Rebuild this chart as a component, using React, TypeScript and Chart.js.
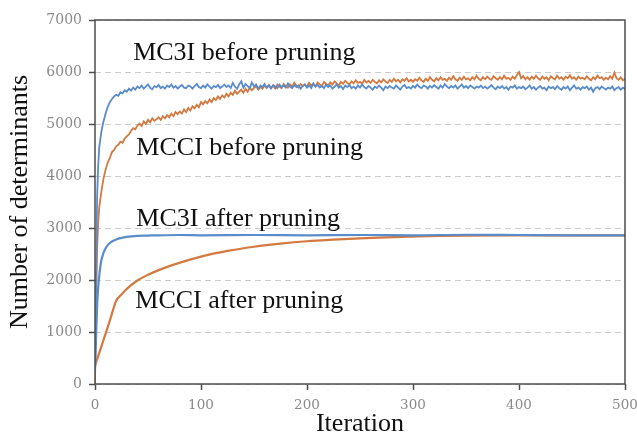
import React, { useEffect, useRef } from "react";
import { Chart, registerables } from "chart.js";

Chart.register(...registerables);

// ---- Data ----
// Noisy "before pruning" series: iterations 0,1,2,3 then every 2 from 4 up to 500
const ITER_NOISY: number[] = [0, 1, 2, 3, ...Array.from({ length: 249 }, (_, i) => 4 + 2 * i)];

const MC3I_BEFORE: number[] = [
  200, 2000, 3600, 4200,
  4550, 4850, 5050, 5200, 5330, 5420, 5480, 5530, 5560, 5540, 5610, 5590, 5650, 5620, 5680, 5640, 5700, 5660, 5720,
  5690, 5740, 5680, 5720, 5760, 5700, 5670, 5730, 5710, 5750,
  5690, 5720, 5680, 5740, 5710, 5760, 5700, 5730, 5680, 5720,
  5750, 5700, 5690, 5740, 5720, 5680, 5730, 5770, 5710, 5690,
  5740, 5700, 5760, 5720, 5680, 5730, 5710, 5750, 5690, 5720,
  5760, 5710, 5740, 5690, 5790, 5720, 5680, 5760, 5820, 5700,
  5770, 5730, 5690, 5800, 5720, 5760, 5680, 5740, 5710, 5770,
  5700, 5740, 5680, 5750, 5720, 5690, 5760, 5710, 5740, 5700,
  5780, 5720, 5690, 5750, 5710, 5740, 5680, 5730, 5760, 5700,
  5740, 5690, 5780, 5720, 5750, 5700, 5730, 5690, 5760, 5710,
  5740, 5680, 5720, 5760, 5700, 5730, 5670, 5740, 5710, 5750,
  5690, 5720, 5680, 5740, 5700, 5760, 5710, 5680, 5730, 5700,
  5660, 5720, 5690, 5740, 5700, 5650, 5720, 5690, 5730, 5700,
  5680, 5740, 5700, 5660, 5720, 5750, 5690, 5710, 5680, 5730,
  5700, 5760, 5710, 5690, 5740, 5720, 5680, 5730, 5700, 5750,
  5710, 5680, 5740, 5700, 5770, 5720, 5690, 5730, 5700, 5740,
  5680, 5720, 5760, 5700, 5730, 5690, 5740, 5710, 5680, 5720,
  5700, 5740, 5690, 5720, 5680, 5710, 5750, 5700, 5670, 5720,
  5690, 5730, 5680, 5710, 5660, 5720, 5700, 5740, 5680, 5710,
  5690, 5720, 5670, 5700, 5740, 5680, 5710, 5660, 5700, 5730,
  5680, 5700, 5650, 5720, 5690, 5710, 5670, 5730, 5690, 5660,
  5710, 5680, 5720, 5650, 5700, 5740, 5680, 5700, 5660, 5710,
  5690, 5720, 5660, 5700, 5620, 5690, 5710, 5670, 5720, 5690,
  5660, 5700, 5680, 5720, 5650, 5690, 5710, 5660, 5700, 5670,
];

const MCCI_BEFORE: number[] = [
  0, 1500, 2600, 3100,
  3400, 3700, 3950, 4120, 4260, 4350, 4460, 4500, 4570, 4600, 4660, 4640, 4720, 4760, 4800, 4870, 4920, 4900, 4970,
  5010, 4960, 5050, 5000, 5080, 5030, 5110, 5060, 5090, 5130,
  5080, 5150, 5110, 5170, 5130, 5200, 5150, 5230, 5190, 5240,
  5200, 5280, 5230, 5310, 5260, 5340, 5300, 5370, 5320, 5420,
  5380, 5440, 5400, 5470, 5420, 5500, 5460, 5530, 5480, 5550,
  5510, 5580, 5530, 5600, 5560, 5640, 5580, 5620, 5660, 5600,
  5680, 5620, 5700, 5650, 5690, 5730, 5660, 5710, 5680, 5740,
  5690, 5750, 5700, 5730, 5680, 5760, 5720, 5690, 5770, 5730,
  5700, 5760, 5720, 5790, 5740, 5700, 5770, 5730, 5760, 5720,
  5790, 5740, 5770, 5720, 5800, 5760, 5730, 5810, 5770, 5740,
  5800, 5760, 5820, 5780, 5740, 5810, 5770, 5830, 5790, 5760,
  5820, 5780, 5840, 5790, 5810, 5770, 5850, 5800, 5830, 5790,
  5850, 5810, 5780, 5840, 5800, 5860, 5820, 5790, 5850, 5810,
  5870, 5820, 5850, 5800, 5860, 5830, 5880, 5820, 5850, 5810,
  5860, 5830, 5890, 5840, 5810, 5870, 5830, 5900, 5850, 5820,
  5880, 5840, 5900, 5850, 5870, 5830, 5890, 5850, 5920, 5860,
  5830, 5890, 5850, 5910, 5860, 5880, 5840, 5900, 5860, 5930,
  5870, 5840, 5900, 5860, 5910, 5870, 5850, 5920, 5880, 5850,
  5900, 5860, 5930, 5870, 5890, 5850, 5910, 5870, 5940, 6000,
  5880, 5920, 5860, 5900, 5850, 5910, 5870, 5930, 5880, 5850,
  5910, 5870, 5900, 5840, 5920, 5880, 5860, 5930, 5870, 5900,
  5850, 5910, 5880, 5940, 5870, 5900, 5850, 5910, 5870, 5890,
  5860, 5920, 5870, 5840, 5900, 5860, 5930, 5880, 5900, 5850,
  5890, 5860, 5920, 5870, 5990, 5880, 5850, 5900, 5840, 5870,
];

// Smooth "after pruning" series
const ITER_MC3I_AFTER: number[] = [0, 1, 2, 3, 4, 5, 6, 8, 10, 12, 15, 20, 25, 30, 40, 50, 60, 80, 100, 150, 200, 250, 300, 350, 400, 450, 500];
const MC3I_AFTER: number[] = [300, 900, 1500, 1850, 2080, 2250, 2380, 2520, 2610, 2670, 2730, 2780, 2810, 2830, 2850, 2855, 2860, 2865, 2860, 2865, 2860, 2865, 2860, 2870, 2865, 2860, 2860];

const ITER_MCCI_AFTER: number[] = [0, 5, 10, 14, 20, 25, 30, 40, 50, 60, 75, 100, 125, 150, 175, 200, 225, 250, 275, 300, 325, 350, 400, 450, 500];
const MCCI_AFTER: number[] = [350, 660, 970, 1220, 1600, 1720, 1830, 1990, 2100, 2190, 2300, 2450, 2560, 2640, 2700, 2745, 2775, 2800, 2820, 2835, 2848, 2855, 2860, 2860, 2860];

// Axis ticks
const X_MIN = 0, X_MAX = 500, X_STEP = 100;
const Y_MIN = 0, Y_MAX = 7000, Y_STEP = 1000;

// In-plot labels
const LABEL_TEXTS: string[] = ["MC3I before pruning", "MCCI before pruning", "MC3I after pruning", "MCCI after pruning"];
const LABEL_X: number[] = [36, 39, 39, 38];
const LABEL_Y: number[] = [6230, 4400, 3040, 1460];

const BLUE = "#5a8ccc";
const ORANGE = "#d4793f";

const toXY = (xs: number[], ys: number[]) => xs.map((x, i) => ({ x, y: ys[i] }));

const overlayPlugin = {
  id: "overlay",
  afterDatasetsDraw(chart: any) {
    const { ctx, chartArea, scales } = chart;
    const x = scales.x, y = scales.y;
    ctx.save();
    ctx.strokeStyle = "#4d4d4d";
    ctx.lineWidth = 1.5;
    ctx.setLineDash([]);
    ctx.strokeRect(chartArea.left, chartArea.top, chartArea.right - chartArea.left, chartArea.bottom - chartArea.top);
    ctx.font = '26px "Liberation Serif"';
    ctx.fillStyle = "#111111";
    ctx.textAlign = "left";
    ctx.textBaseline = "alphabetic";
    LABEL_TEXTS.forEach((t, i) => {
      ctx.fillText(t, x.getPixelForValue(LABEL_X[i]), y.getPixelForValue(LABEL_Y[i]));
    });
    ctx.restore();
  },
};

export default function App() {
  const ref = useRef<HTMLCanvasElement | null>(null);
  useEffect(() => {
    if (!ref.current) return;
    const chart = new Chart(ref.current, {
      type: "line",
      data: {
        datasets: [
          { label: "MC3I after pruning", data: toXY(ITER_MC3I_AFTER, MC3I_AFTER), borderColor: BLUE, borderWidth: 2.2, pointRadius: 0, cubicInterpolationMode: "monotone", fill: false },
          { label: "MC3I before pruning", data: toXY(ITER_NOISY, MC3I_BEFORE), borderColor: BLUE, borderWidth: 1.8, pointRadius: 0, tension: 0, fill: false },
          { label: "MCCI after pruning", data: toXY(ITER_MCCI_AFTER, MCCI_AFTER), borderColor: ORANGE, borderWidth: 2.2, pointRadius: 0, cubicInterpolationMode: "monotone", fill: false },
          { label: "MCCI before pruning", data: toXY(ITER_NOISY, MCCI_BEFORE), borderColor: ORANGE, borderWidth: 1.8, pointRadius: 0, tension: 0, fill: false },
        ],
      },
      options: {
        animation: false,
        responsive: true,
        maintainAspectRatio: false,
        layout: { padding: { left: 0, right: 12, top: 20, bottom: 0 } },
        plugins: { legend: { display: false }, tooltip: { enabled: false } },
        scales: {
          x: {
            type: "linear",
            min: X_MIN,
            max: X_MAX,
            ticks: { stepSize: X_STEP, color: "#8a8a8a", font: { family: '"DejaVu Serif"', size: 13.5 }, padding: 7, maxRotation: 0, callback: (v: any) => String(v) },
            grid: { drawOnChartArea: false, drawTicks: true, tickLength: 6, tickColor: "#4d4d4d", tickWidth: 1.5 },
            border: { display: false },
            title: { display: true, text: "Iteration", color: "#111111", font: { family: '"Liberation Serif"', size: 26 }, padding: { top: 0, bottom: 0 } },
            afterFit: (s: any) => { s.height = 56; s.paddingLeft = 0; s.paddingRight = 0; },
          },
          y: {
            min: Y_MIN,
            max: Y_MAX,
            ticks: { stepSize: Y_STEP, color: "#8a8a8a", font: { family: '"DejaVu Serif"', size: 14 }, padding: 7, callback: (v: any) => String(v) },
            grid: { color: "#cccccc", lineWidth: 1, drawTicks: true, tickLength: 6, tickColor: "#4d4d4d", tickWidth: 1.5, tickBorderDash: [] },
            border: { display: false, dash: [6, 4] },
            title: { display: true, text: "Number of determinants", color: "#111111", font: { family: '"Liberation Serif"', size: 26 }, padding: { top: 5, bottom: 0 } },
            afterFit: (s: any) => { s.width = 95; s.paddingTop = 0; s.paddingBottom = 0; },
          },
        },
      },
      plugins: [overlayPlugin],
    } as any);
    return () => chart.destroy();
  }, []);
  return (
    <div style={{ position: "fixed", left: 0, top: 0, width: 637, height: 440, background: "#fff" }}>
      <canvas ref={ref} />
    </div>
  );
}
